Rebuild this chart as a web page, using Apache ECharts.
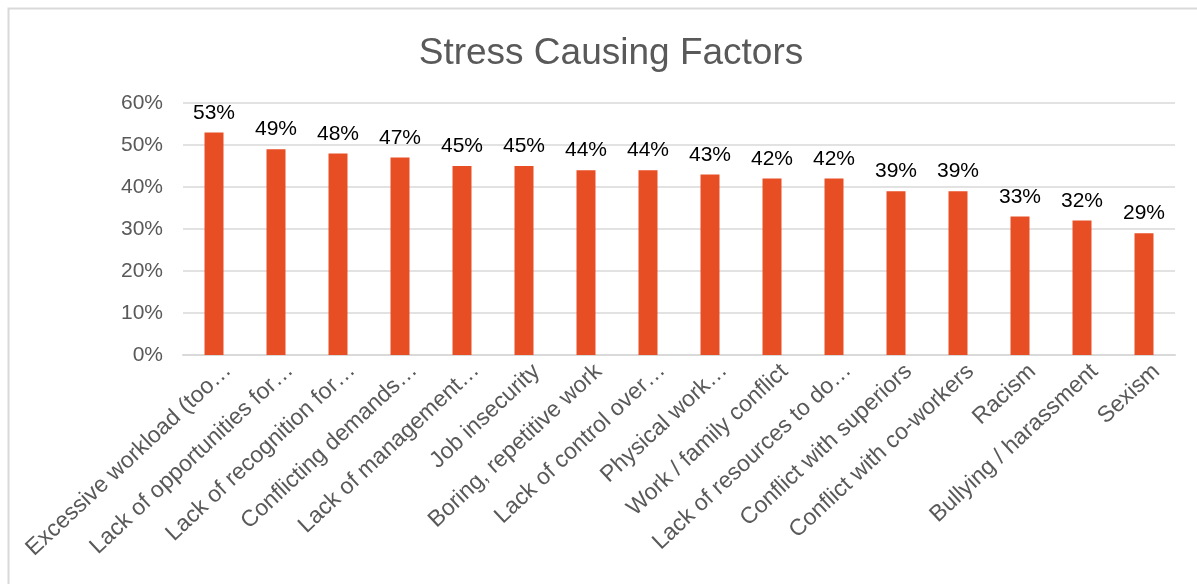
<!DOCTYPE html>
<html>
<head>
<meta charset="utf-8">
<script src="https://cdn.jsdelivr.net/npm/echarts@6/dist/echarts.min.js"></script>
<style>
  html, body { margin: 0; padding: 0; background: #ffffff; }
  #chart { width: 1197px; height: 584px; }
</style>
</head>
<body>
<div id="chart"></div>
<script>
// Share of respondents citing each factor as a cause of stress (%)
const categories = [
  'Excessive workload (too…',
  'Lack of opportunities for…',
  'Lack of recognition for…',
  'Conflicting demands…',
  'Lack of management…',
  'Job insecurity',
  'Boring, repetitive work',
  'Lack of control over…',
  'Physical work…',
  'Work / family conflict',
  'Lack of resources to do…',
  'Conflict with superiors',
  'Conflict with co-workers',
  'Racism',
  'Bullying / harassment',
  'Sexism'
];
const values = [53, 49, 48, 47, 45, 45, 44, 44, 43, 42, 42, 39, 39, 33, 32, 29];
const yTicks = { min: 0, max: 60, interval: 10 };

const chart = echarts.init(document.getElementById('chart'), null, { renderer: 'canvas' });
const font = '"Liberation Sans", Arial, Helvetica, sans-serif';
const labelSize = 23;

chart.setOption({
  backgroundColor: '#ffffff',
  animation: false,
  textStyle: { fontFamily: font },
  graphic: [{
    type: 'rect',
    left: 6, top: 6,
    shape: { width: 1210, height: 600 },
    style: { fill: 'none', stroke: '#d9d9d9', lineWidth: 2 },
    silent: true
  }],
  title: {
    text: 'Stress Causing Factors',
    left: 606,
    textAlign: 'center',
    top: 30,
    textStyle: { fontFamily: font, fontSize: 37, fontWeight: 'normal', color: '#595959' }
  },
  grid: { left: 183, right: 22, top: 103, bottom: 229, containLabel: false },
  xAxis: {
    type: 'category',
    data: categories,
    axisLine: { lineStyle: { color: '#d9d9d9', width: 2 } },
    axisTick: { show: false },
    axisLabel: {
      interval: 0,
      rotate: 43,
      margin: -3,
      verticalAlign: 'top',
      padding: [9, 0, 0, 0],
      fontSize: labelSize,
      color: '#595959',
      fontFamily: font,
      // shortened names end with an ellipsis and sit a little further out
      formatter: (v) => v.endsWith('…') ? '{t|' + v + '}' : '{f|' + v + '}',
      rich: {
        t: { fontSize: labelSize, color: '#595959', fontFamily: font },
        f: { fontSize: labelSize, color: '#595959', fontFamily: font, padding: [0, 2, 0, 0] }
      }
    }
  },
  yAxis: {
    type: 'value',
    min: yTicks.min,
    max: yTicks.max,
    interval: yTicks.interval,
    axisLine: { show: false },
    axisTick: { show: false },
    splitLine: { lineStyle: { color: '#d9d9d9', width: 1.5 } },
    axisLabel: {
      formatter: '{value}%',
      margin: 20,
      fontSize: 21,
      color: '#595959',
      fontFamily: font
    }
  },
  series: [{
    type: 'bar',
    data: values,
    barWidth: 19,
    itemStyle: { color: '#e84e24' },
    label: {
      show: true,
      position: 'top',
      distance: 9,
      formatter: '{c}%',
      fontSize: 21,
      color: '#000000',
      fontFamily: font
    }
  }]
});
</script>
</body>
</html>
